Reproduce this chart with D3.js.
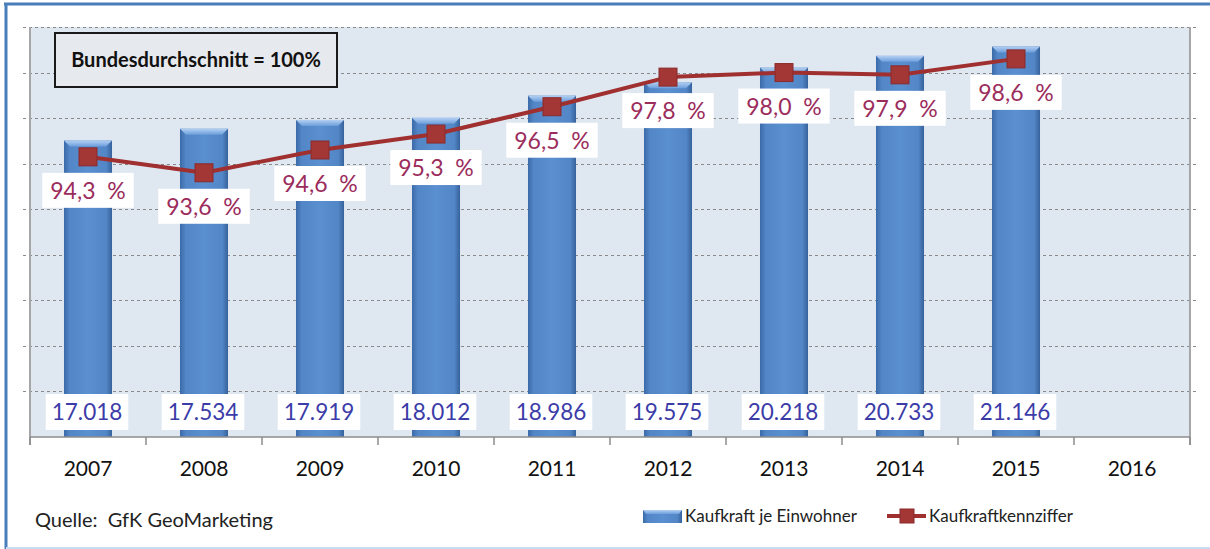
<!DOCTYPE html>
<html>
<head>
<meta charset="utf-8">
<script src="https://cdn.jsdelivr.net/npm/d3@7"></script>
<style>
  body { margin: 0; background: #fff; }
  svg { display: block; font-family: Lato, "Open Sans", sans-serif; }
</style>
</head>
<body>
<svg id="chart"></svg>
<script>
const years = ["2007", "2008", "2009", "2010", "2011", "2012", "2013", "2014", "2015", "2016"];
const kaufkraft = [17018, 17534, 17919, 18012, 18986, 19575, 20218, 20733, 21146, null];
const kennziffer = [94.3, 93.6, 94.6, 95.3, 96.5, 97.8, 98.0, 97.9, 98.6, null];
const barDomain = [4000, 22000];
const lineDomain = [82, 100];
const gridCount = 9;

const width = 1210;
const height = 549;
const plot = { left: 30, right: 1190, top: 27, bottom: 437 };

const de = d3.formatLocale({ decimal: ",", thousands: ".", grouping: [3], currency: ["", " €"] });
const fmtEuro = de.format(",d");
const fmtPct = (v) => de.format(".1f")(v) + "  %";

const svg = d3.select("#chart").attr("width", width).attr("height", height);

// gradients for the bevelled bars
const defs = svg.append("defs");
const side = defs.append("linearGradient").attr("id", "barSide").attr("x1", 0).attr("x2", 1).attr("y1", 0).attr("y2", 0);
[[0, "#3b6aa8"], [0.12, "#5286c6"], [0.5, "#5a8fd0"], [0.88, "#5286c6"], [1, "#36629c"]]
  .forEach(([o, c]) => side.append("stop").attr("offset", o).attr("stop-color", c));
const topG = defs.append("linearGradient").attr("id", "barTop").attr("x1", 0).attr("x2", 0).attr("y1", 0).attr("y2", 1);
[[0, "#b4d0f2"], [1, "#6c9edc"]]
  .forEach(([o, c]) => topG.append("stop").attr("offset", o).attr("stop-color", c));

// outer frame
svg.append("rect").attr("x", 0).attr("y", 0).attr("width", width).attr("height", height).attr("fill", "#fff");
svg.append("line").attr("x1", 4).attr("x2", width).attr("y1", 4).attr("y2", 4)
  .attr("stroke", "#4a7ebb").attr("stroke-width", 3);
svg.append("line").attr("x1", 6).attr("x2", 6).attr("y1", 3).attr("y2", height)
  .attr("stroke", "#4a7ebb").attr("stroke-width", 3);
svg.append("line").attr("x1", 6).attr("x2", width).attr("y1", 548).attr("y2", 548)
  .attr("stroke", "#c9dbf0").attr("stroke-width", 2);

const x = d3.scaleBand(years, [plot.left, plot.right]).paddingInner(0.586).paddingOuter(0.293);
const yBar = d3.scaleLinear(barDomain, [plot.bottom, plot.top]);
const yLine = d3.scaleLinear(lineDomain, [plot.bottom, plot.top]);

// plot background
svg.append("rect")
  .attr("x", plot.left).attr("y", plot.top)
  .attr("width", plot.right - plot.left).attr("height", plot.bottom - plot.top)
  .attr("fill", "#dfe7f1");

// gridlines (dashed, extending a little outside both axes)
const gridVals = d3.range(1, gridCount + 1).map((i) => barDomain[0] + i * (barDomain[1] - barDomain[0]) / gridCount);
svg.append("g").selectAll("line").data(gridVals).join("line")
  .attr("x1", plot.left - 7).attr("x2", plot.right + 7)
  .attr("y1", (d) => Math.round(yBar(d)) + 0.5).attr("y2", (d) => Math.round(yBar(d)) + 0.5)
  .attr("stroke", "#8a8a8a").attr("stroke-dasharray", "3,3");

// vertical axis lines
svg.append("line").attr("x1", plot.left).attr("x2", plot.left).attr("y1", plot.top).attr("y2", plot.bottom + 8)
  .attr("stroke", "#a6a6a6").attr("stroke-width", 2);
svg.append("line").attr("x1", plot.right).attr("x2", plot.right).attr("y1", plot.top).attr("y2", plot.bottom + 8)
  .attr("stroke", "#a6a6a6").attr("stroke-width", 2);

// bars
const bars = svg.append("g").selectAll("g")
  .data(years.map((y, i) => ({ year: y, v: kaufkraft[i] })).filter((d) => d.v != null))
  .join("g");
bars.append("rect")
  .attr("x", (d) => x(d.year)).attr("width", x.bandwidth())
  .attr("y", (d) => yBar(d.v)).attr("height", (d) => plot.bottom - yBar(d.v))
  .attr("fill", "url(#barSide)");
bars.append("path")
  .attr("d", (d) => {
    const x0 = x(d.year), x1 = x0 + x.bandwidth(), t = yBar(d.v), b = 6;
    return `M${x0},${t}L${x1},${t}L${x1 - b},${t + b}L${x0 + b},${t + b}Z`;
  })
  .attr("fill", "url(#barTop)");

// x axis
svg.append("line").attr("x1", plot.left).attr("x2", plot.right).attr("y1", plot.bottom).attr("y2", plot.bottom)
  .attr("stroke", "#8c8c8c").attr("stroke-width", 1.5);
const step = x.step();
svg.append("g").selectAll("line").data(d3.range(years.length + 1)).join("line")
  .attr("x1", (i) => plot.left + i * step).attr("x2", (i) => plot.left + i * step)
  .attr("y1", plot.bottom).attr("y2", plot.bottom + 8)
  .attr("stroke", "#8c8c8c").attr("stroke-width", 1.5);
svg.append("g").selectAll("text").data(years).join("text")
  .attr("x", (d) => x(d) + x.bandwidth() / 2).attr("y", 476)
  .attr("text-anchor", "middle").attr("font-size", 21).attr("fill", "#111")
  .text((d) => d);

// bar value labels (inside base)
const barLabels = svg.append("g").selectAll("g")
  .data(years.map((y, i) => ({ year: y, v: kaufkraft[i] })).filter((d) => d.v != null))
  .join("g");
barLabels.append("rect").attr("class", "bg").attr("fill", "#fff");
barLabels.append("text")
  .attr("x", (d) => x(d.year) + x.bandwidth() / 2 - 1).attr("y", 420)
  .attr("text-anchor", "middle").attr("font-size", 22.5).attr("fill", "#3c3ca8")
  .text((d) => fmtEuro(d.v));
barLabels.each(function () {
  const g = d3.select(this);
  const bb = g.select("text").node().getBBox();
  g.select("rect").attr("x", bb.x - 6).attr("width", bb.width + 12).attr("y", 394).attr("height", 36);
});

// line series
const pts = years.map((y, i) => ({ year: y, v: kennziffer[i] })).filter((d) => d.v != null);
const line = d3.line().x((d) => x(d.year) + x.bandwidth() / 2).y((d) => yLine(d.v));
svg.append("path").datum(pts).attr("d", line)
  .attr("fill", "none").attr("stroke", "#a0302f").attr("stroke-width", 4).attr("stroke-linejoin", "round");
svg.append("g").selectAll("rect").data(pts).join("rect")
  .attr("x", (d) => x(d.year) + x.bandwidth() / 2 - 9).attr("y", (d) => yLine(d.v) - 9)
  .attr("width", 18).attr("height", 18)
  .attr("fill", "#a23736").attr("stroke", "#8a2b2b").attr("stroke-width", 1);

// percent labels
const pctLabels = svg.append("g").selectAll("g").data(pts).join("g");
pctLabels.append("rect").attr("fill", "#fff");
pctLabels.append("text")
  .attr("x", (d) => x(d.year) + x.bandwidth() / 2).attr("y", (d) => yLine(d.v) + 42)
  .attr("text-anchor", "middle").attr("font-size", 23).attr("fill", "#9b2c5c")
  .attr("xml:space", "preserve")
  .text((d) => fmtPct(d.v));
pctLabels.each(function (d) {
  const g = d3.select(this);
  const bb = g.select("text").node().getBBox();
  g.select("rect").attr("x", bb.x - 8).attr("width", bb.width + 16)
    .attr("y", yLine(d.v) + 16).attr("height", 35);
});

// annotation box
svg.append("rect").attr("x", 55).attr("y", 33).attr("width", 282).attr("height", 54)
  .attr("fill", "#e6e9ee").attr("stroke", "#1a1a1a").attr("stroke-width", 2);
svg.append("text").attr("x", 196).attr("y", 67).attr("text-anchor", "middle")
  .attr("font-size", 20).attr("font-weight", "bold").attr("fill", "#111")
  .text("Bundesdurchschnitt = 100%");

// source
svg.append("text").attr("x", 35).attr("y", 527).attr("font-size", 20).attr("fill", "#222")
  .attr("xml:space", "preserve").text("Quelle:  GfK GeoMarketing");

// legend
const lg = svg.append("g");
lg.append("rect").attr("x", 643).attr("y", 510).attr("width", 39).attr("height", 13).attr("fill", "url(#barSide)");
lg.append("path").attr("d", "M643,510L682,510L679,514L646,514Z").attr("fill", "url(#barTop)");
lg.append("text").attr("x", 685).attr("y", 522).attr("font-size", 17).attr("fill", "#222").text("Kaufkraft je Einwohner");
lg.append("line").attr("x1", 887).attr("x2", 926).attr("y1", 516).attr("y2", 516)
  .attr("stroke", "#a0302f").attr("stroke-width", 4);
lg.append("rect").attr("x", 900).attr("y", 509).attr("width", 14).attr("height", 14)
  .attr("fill", "#a23736").attr("stroke", "#8a2b2b");
lg.append("text").attr("x", 929).attr("y", 522).attr("font-size", 17).attr("fill", "#222").text("Kaufkraftkennziffer");
</script>
</body>
</html>
